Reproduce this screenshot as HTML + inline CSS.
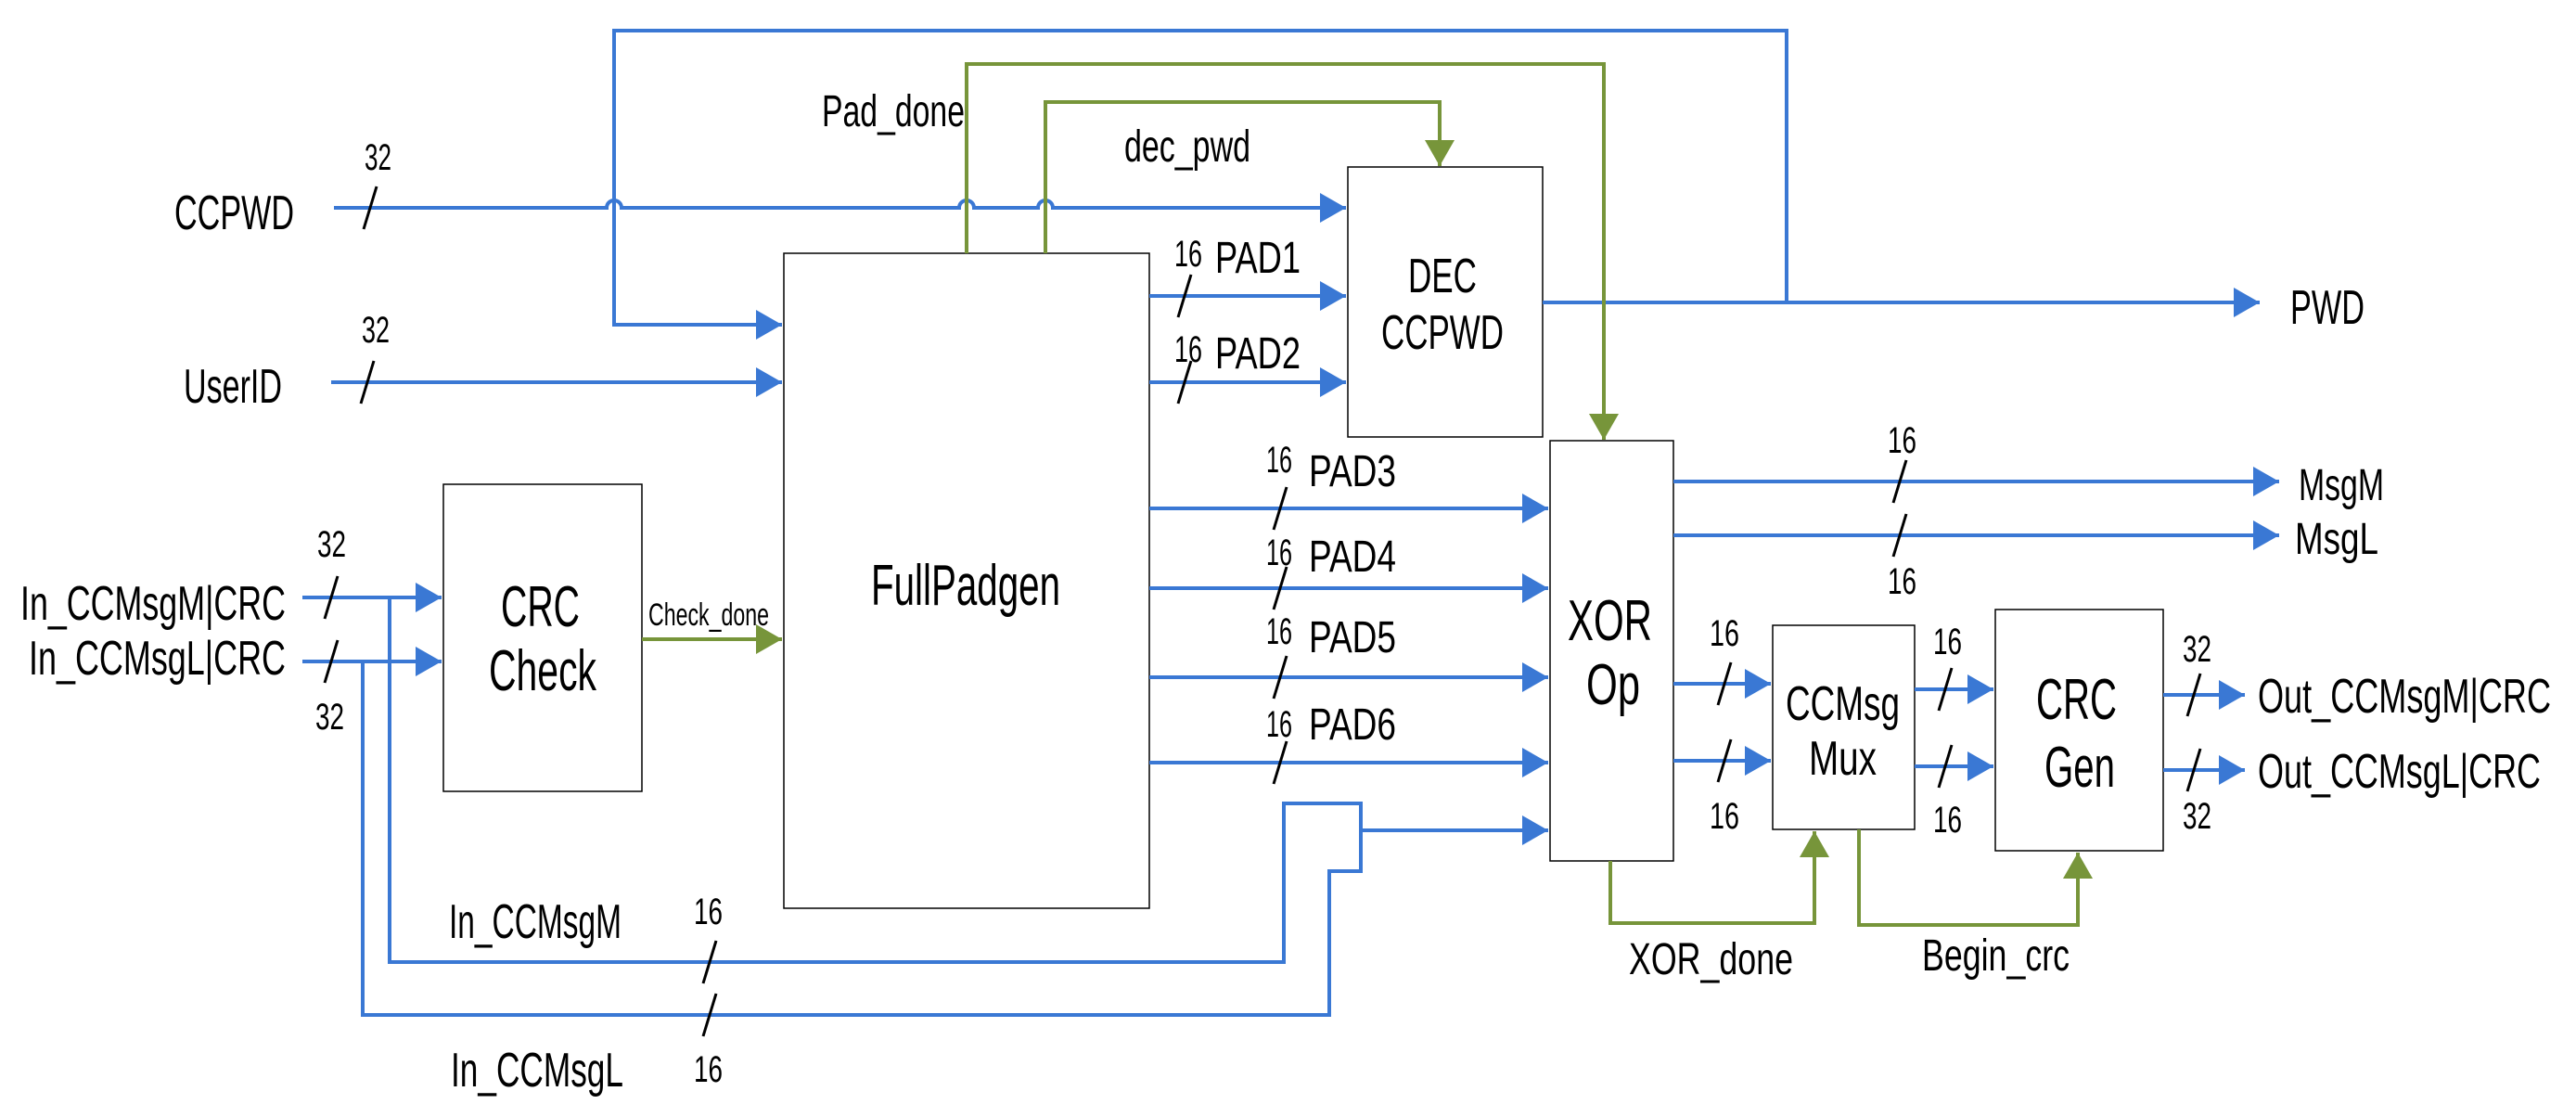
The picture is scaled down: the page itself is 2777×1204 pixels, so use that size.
<!DOCTYPE html>
<html><head><meta charset="utf-8"><style>
html,body{margin:0;padding:0;background:#fff;}
svg{display:block;}
text{font-family:"Liberation Sans",sans-serif;fill:#000;}
</style></head><body>
<svg width="2777" height="1204" viewBox="0 0 2777 1204" xmlns="http://www.w3.org/2000/svg">
<defs>
<marker id="ab" markerWidth="8" markerHeight="8" refX="7" refY="4" orient="auto" markerUnits="strokeWidth"><path d="M0,0 L7,4 L0,8 z" fill="#3a78d4"/></marker>
<marker id="ag" markerWidth="8" markerHeight="8" refX="7" refY="4" orient="auto" markerUnits="strokeWidth"><path d="M0,0 L7,4 L0,8 z" fill="#77953a"/></marker>
</defs>
<g fill="none" stroke="#000" stroke-width="1.5">
<rect x="845" y="273" width="394" height="706"/>
<rect x="478" y="522" width="214" height="331"/>
<rect x="1453" y="180" width="210" height="291"/>
<rect x="1671" y="475" width="133" height="453"/>
<rect x="1911" y="674" width="153" height="220"/>
<rect x="2151" y="657" width="181" height="260"/>
</g>
<g fill="none" stroke="#3a78d4" stroke-width="4">
<path d="M360,224 H654 a8,8 0 0 1 16,0 H1034 a8,8 0 0 1 16,0 H1119 a8,8 0 0 1 16,0 H1451" marker-end="url(#ab)"/>
<path d="M1926,326 V33 H662 V350 H843" marker-end="url(#ab)"/>
<path d="M357,412 H843" marker-end="url(#ab)"/>
<path d="M326,644 H476" marker-end="url(#ab)"/>
<path d="M326,713 H476" marker-end="url(#ab)"/>
<path d="M1239,319 H1451" marker-end="url(#ab)"/>
<path d="M1239,412 H1451" marker-end="url(#ab)"/>
<path d="M1663,326 H2436" marker-end="url(#ab)"/>
<path d="M1239,548 H1669" marker-end="url(#ab)"/>
<path d="M1239,634 H1669" marker-end="url(#ab)"/>
<path d="M1239,730 H1669" marker-end="url(#ab)"/>
<path d="M1239,822 H1669" marker-end="url(#ab)"/>
<path d="M420,644 V1037 H1384 V866 H1467 V939 H1433 V1094 H391 V713"/>
<path d="M1467,895 H1669" marker-end="url(#ab)"/>
<path d="M1804,519 H2457" marker-end="url(#ab)"/>
<path d="M1804,577 H2457" marker-end="url(#ab)"/>
<path d="M1804,737 H1909" marker-end="url(#ab)"/>
<path d="M1804,820 H1909" marker-end="url(#ab)"/>
<path d="M2064,743 H2149" marker-end="url(#ab)"/>
<path d="M2064,826 H2149" marker-end="url(#ab)"/>
<path d="M2332,749 H2420" marker-end="url(#ab)"/>
<path d="M2332,830 H2420" marker-end="url(#ab)"/>
</g>
<g fill="none" stroke="#77953a" stroke-width="4">
<path d="M1042,273 V69 H1729 V474" marker-end="url(#ag)"/>
<path d="M1127,273 V110 H1552 V179" marker-end="url(#ag)"/>
<path d="M692,689 H843" marker-end="url(#ag)"/>
<path d="M1736,928 V995 H1956 V896" marker-end="url(#ag)"/>
<path d="M2004,894 V997 H2240 V919" marker-end="url(#ag)"/>
</g>
<g stroke="#000" stroke-width="3">
<line x1="392" y1="247" x2="406" y2="201"/>
<line x1="389" y1="435" x2="403" y2="389"/>
<line x1="350" y1="667" x2="364" y2="621"/>
<line x1="350" y1="736" x2="364" y2="690"/>
<line x1="1270" y1="342" x2="1284" y2="296"/>
<line x1="1270" y1="435" x2="1284" y2="389"/>
<line x1="1373" y1="571" x2="1387" y2="525"/>
<line x1="1373" y1="657" x2="1387" y2="611"/>
<line x1="1373" y1="753" x2="1387" y2="707"/>
<line x1="1373" y1="845" x2="1387" y2="799"/>
<line x1="758" y1="1060" x2="772" y2="1014"/>
<line x1="758" y1="1117" x2="772" y2="1071"/>
<line x1="2041" y1="542" x2="2055" y2="496"/>
<line x1="2041" y1="600" x2="2055" y2="554"/>
<line x1="1852" y1="760" x2="1866" y2="714"/>
<line x1="1852" y1="843" x2="1866" y2="797"/>
<line x1="2090" y1="766" x2="2104" y2="720"/>
<line x1="2090" y1="849" x2="2104" y2="803"/>
<line x1="2358" y1="772" x2="2372" y2="726"/>
<line x1="2358" y1="853" x2="2372" y2="807"/>
</g>
<g>
<text x="188" y="247" font-size="52" textLength="129" lengthAdjust="spacingAndGlyphs">CCPWD</text>
<text x="198" y="434" font-size="52" textLength="106" lengthAdjust="spacingAndGlyphs">UserID</text>
<text x="393" y="183" font-size="40" textLength="29" lengthAdjust="spacingAndGlyphs">32</text>
<text x="390" y="369" font-size="40" textLength="30" lengthAdjust="spacingAndGlyphs">32</text>
<text x="22" y="668" font-size="52" textLength="286" lengthAdjust="spacingAndGlyphs">In_CCMsgM|CRC</text>
<text x="31" y="727" font-size="52" textLength="277" lengthAdjust="spacingAndGlyphs">In_CCMsgL|CRC</text>
<text x="342" y="600" font-size="40" textLength="31" lengthAdjust="spacingAndGlyphs">32</text>
<text x="340" y="786" font-size="40" textLength="31" lengthAdjust="spacingAndGlyphs">32</text>
<text x="540" y="675" font-size="62" textLength="85" lengthAdjust="spacingAndGlyphs">CRC</text>
<text x="527" y="744" font-size="62" textLength="116" lengthAdjust="spacingAndGlyphs">Check</text>
<text x="699" y="674" font-size="34" textLength="130" lengthAdjust="spacingAndGlyphs">Check_done</text>
<text x="939" y="652" font-size="62" textLength="204" lengthAdjust="spacingAndGlyphs">FullPadgen</text>
<text x="886" y="136" font-size="48" textLength="154" lengthAdjust="spacingAndGlyphs">Pad_done</text>
<text x="1212" y="174" font-size="48" textLength="136" lengthAdjust="spacingAndGlyphs">dec_pwd</text>
<text x="1266" y="287" font-size="40" textLength="30" lengthAdjust="spacingAndGlyphs">16</text>
<text x="1310" y="294" font-size="48" textLength="92" lengthAdjust="spacingAndGlyphs">PAD1</text>
<text x="1266" y="390" font-size="40" textLength="30" lengthAdjust="spacingAndGlyphs">16</text>
<text x="1310" y="397" font-size="48" textLength="92" lengthAdjust="spacingAndGlyphs">PAD2</text>
<text x="1365" y="509" font-size="40" textLength="28" lengthAdjust="spacingAndGlyphs">16</text>
<text x="1411" y="524" font-size="48" textLength="94" lengthAdjust="spacingAndGlyphs">PAD3</text>
<text x="1365" y="609" font-size="40" textLength="28" lengthAdjust="spacingAndGlyphs">16</text>
<text x="1411" y="616" font-size="48" textLength="94" lengthAdjust="spacingAndGlyphs">PAD4</text>
<text x="1365" y="694" font-size="40" textLength="28" lengthAdjust="spacingAndGlyphs">16</text>
<text x="1411" y="703" font-size="48" textLength="94" lengthAdjust="spacingAndGlyphs">PAD5</text>
<text x="1365" y="794" font-size="40" textLength="28" lengthAdjust="spacingAndGlyphs">16</text>
<text x="1411" y="797" font-size="48" textLength="94" lengthAdjust="spacingAndGlyphs">PAD6</text>
<text x="1518" y="315" font-size="52" textLength="74" lengthAdjust="spacingAndGlyphs">DEC</text>
<text x="1489" y="376" font-size="52" textLength="132" lengthAdjust="spacingAndGlyphs">CCPWD</text>
<text x="2469" y="349" font-size="52" textLength="80" lengthAdjust="spacingAndGlyphs">PWD</text>
<text x="1690" y="690" font-size="62" textLength="91" lengthAdjust="spacingAndGlyphs">XOR</text>
<text x="1710" y="759" font-size="62" textLength="58" lengthAdjust="spacingAndGlyphs">Op</text>
<text x="2478" y="539" font-size="48" textLength="92" lengthAdjust="spacingAndGlyphs">MsgM</text>
<text x="2474" y="597" font-size="48" textLength="90" lengthAdjust="spacingAndGlyphs">MsgL</text>
<text x="2035" y="488" font-size="40" textLength="31" lengthAdjust="spacingAndGlyphs">16</text>
<text x="2035" y="640" font-size="40" textLength="31" lengthAdjust="spacingAndGlyphs">16</text>
<text x="1925" y="776" font-size="52" textLength="123" lengthAdjust="spacingAndGlyphs">CCMsg</text>
<text x="1950" y="835" font-size="52" textLength="73" lengthAdjust="spacingAndGlyphs">Mux</text>
<text x="1843" y="696" font-size="40" textLength="32" lengthAdjust="spacingAndGlyphs">16</text>
<text x="1843" y="893" font-size="40" textLength="32" lengthAdjust="spacingAndGlyphs">16</text>
<text x="2084" y="705" font-size="40" textLength="31" lengthAdjust="spacingAndGlyphs">16</text>
<text x="2084" y="897" font-size="40" textLength="31" lengthAdjust="spacingAndGlyphs">16</text>
<text x="2195" y="775" font-size="62" textLength="87" lengthAdjust="spacingAndGlyphs">CRC</text>
<text x="2204" y="848" font-size="62" textLength="76" lengthAdjust="spacingAndGlyphs">Gen</text>
<text x="2353" y="713" font-size="40" textLength="31" lengthAdjust="spacingAndGlyphs">32</text>
<text x="2353" y="893" font-size="40" textLength="31" lengthAdjust="spacingAndGlyphs">32</text>
<text x="2434" y="768" font-size="52" textLength="316" lengthAdjust="spacingAndGlyphs">Out_CCMsgM|CRC</text>
<text x="2434" y="849" font-size="52" textLength="305" lengthAdjust="spacingAndGlyphs">Out_CCMsgL|CRC</text>
<text x="1756" y="1050" font-size="48" textLength="177" lengthAdjust="spacingAndGlyphs">XOR_done</text>
<text x="2072" y="1046" font-size="48" textLength="159" lengthAdjust="spacingAndGlyphs">Begin_crc</text>
<text x="484" y="1011" font-size="52" textLength="186" lengthAdjust="spacingAndGlyphs">In_CCMsgM</text>
<text x="486" y="1171" font-size="52" textLength="186" lengthAdjust="spacingAndGlyphs">In_CCMsgL</text>
<text x="748" y="996" font-size="40" textLength="31" lengthAdjust="spacingAndGlyphs">16</text>
<text x="748" y="1166" font-size="40" textLength="31" lengthAdjust="spacingAndGlyphs">16</text>
</g>
</svg>
</body></html>
